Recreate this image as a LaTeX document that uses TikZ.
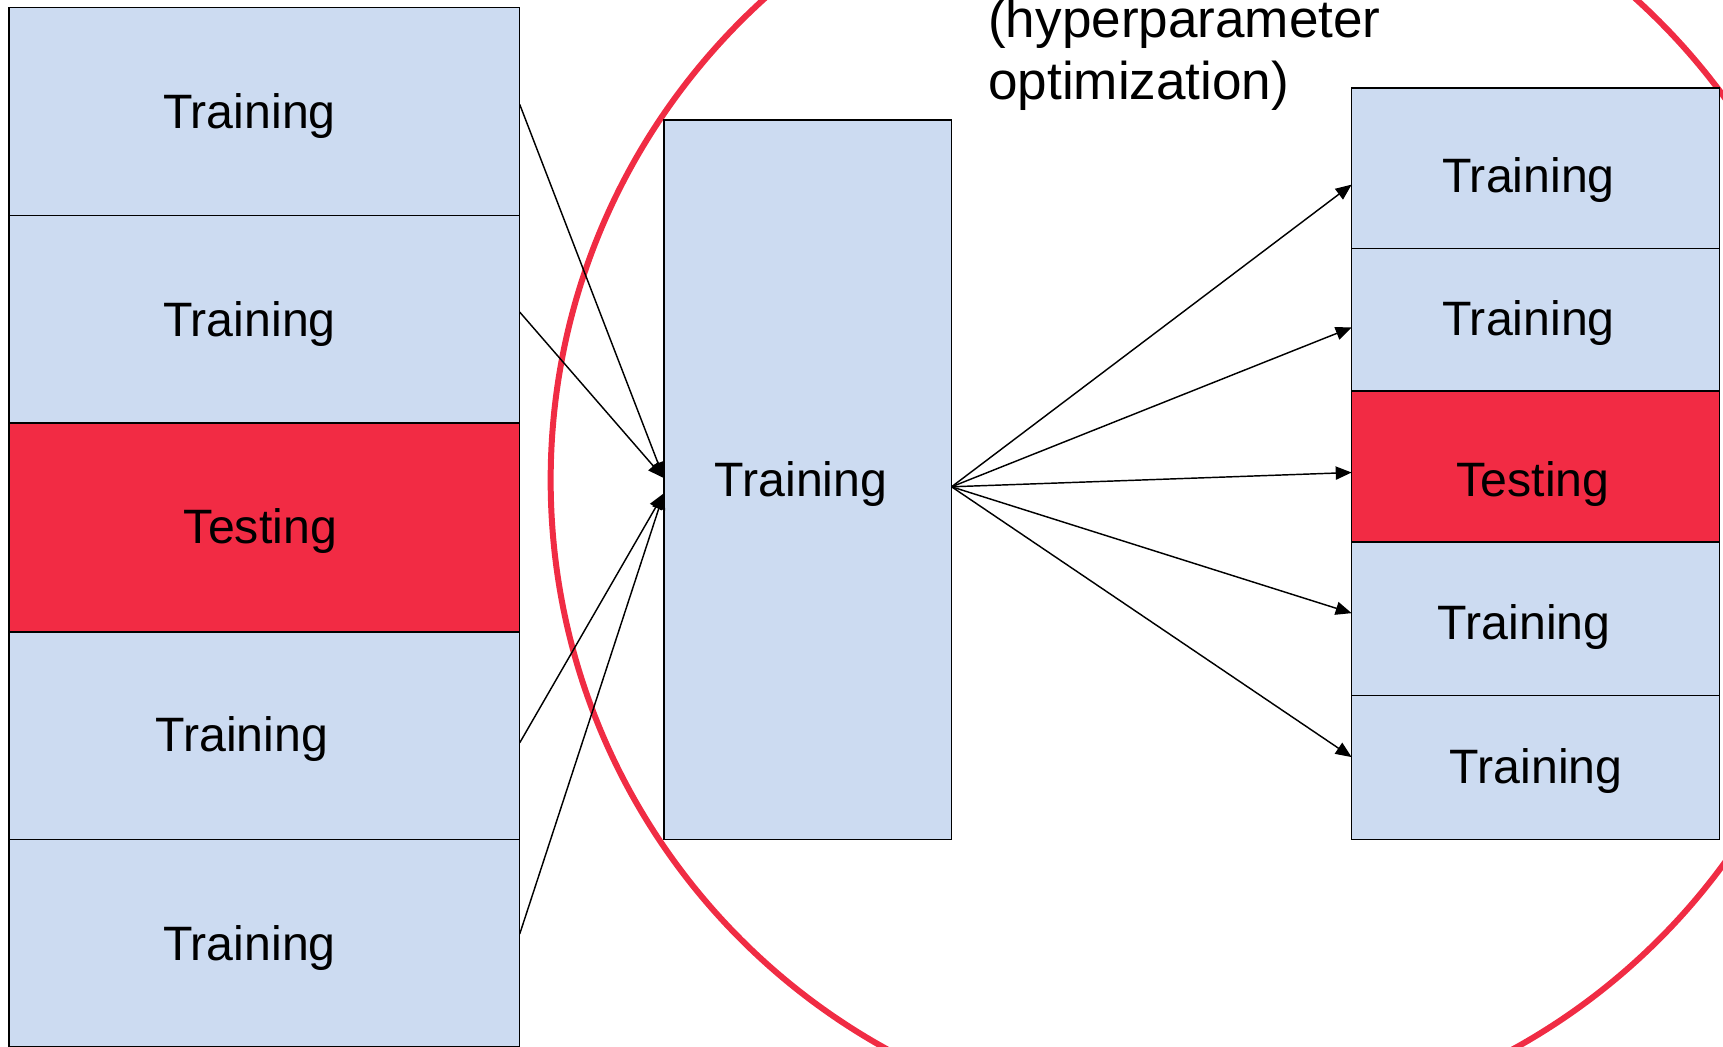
\documentclass[tikz,border=0pt]{standalone}
\usepackage{fontspec}
\setmainfont{Liberation Sans}
\usetikzlibrary{arrows.meta,calc}

\definecolor{trainblue}{RGB}{204,219,241}
\definecolor{testred}{RGB}{242,43,68}
\definecolor{ringred}{RGB}{240,44,68}

\tikzset{
  fold/.style={draw=black, line width=0.8pt, inner sep=0pt, outer sep=0pt, rectangle},
  trainfold/.style={fold, fill=trainblue},
  testfold/.style={fold, fill=testred},
  lbl/.style={anchor=base, inner sep=0pt, font=\fontsize{25}{30}\selectfont},
  ttl/.style={anchor=base west, inner sep=0pt, font=\fontsize{27.5}{33}\selectfont},
  arr/.style={line width=0.75pt, -{Triangle[length=0.29cm,width=0.24cm]}},
  ring/.style={draw=ringred, line width=3.1pt, circle, inner sep=0pt, minimum size=23.64cm}
}

\begin{document}
\begin{tikzpicture}[x=0.02cm, y=-0.02cm]
\useasboundingbox (0,0) rectangle (1568,952);

% inner loop (hyperparameter optimization)
\node[ring] (ring) at (1092,437) {};

% outer folds
\node[trainfold, minimum width=9.3cm, minimum height=3.78cm] (L1) at (240.5,101.5) {};
\node[trainfold, minimum width=9.3cm, minimum height=3.78cm] (L2) at (240.5,290.5) {};
\node[testfold,  minimum width=9.3cm, minimum height=3.80cm] (L3) at (240.5,480) {};
\node[trainfold, minimum width=9.3cm, minimum height=3.78cm] (L4) at (240.5,669.5) {};
\node[trainfold, minimum width=9.3cm, minimum height=3.78cm] (L5) at (240.5,858.5) {};

\node[lbl] (t1) at (227,117) {Training};
\node[lbl] (t2) at (227,306) {Training};
\node[lbl] (t3) at (237,495) {Testing};
\node[lbl] (t4) at (220,684) {Training};
\node[lbl] (t5) at (227,874) {Training};

% merged training set
\node[trainfold, minimum width=5.24cm, minimum height=13.1cm] (M) at (735,436.5) {};
\node[lbl] (tm) at (729,452) {Training};

% inner folds
\node[trainfold, minimum width=6.7cm, minimum height=2.92cm] (R1) at (1397.5,153) {};
\node[trainfold, minimum width=6.7cm, minimum height=2.60cm] (R2) at (1397.5,291) {};
\node[testfold,  minimum width=6.7cm, minimum height=2.74cm] (R3) at (1397.5,424.5) {};
\node[trainfold, minimum width=6.7cm, minimum height=2.80cm] (R4) at (1397.5,563) {};
\node[trainfold, minimum width=6.7cm, minimum height=2.62cm] (R5) at (1397.5,698.5) {};

\node[lbl] (r1) at (1391,175) {Training};
\node[lbl] (r2) at (1391,305) {Training};
\node[lbl] (r3) at (1395,452) {Testing};
\node[lbl] (r4) at (1387,582) {Training};
\node[lbl] (r5) at (1398,713) {Training};

% caption of the loop
\node[ttl] (h1) at (899,34) {(hyperparameter};
\node[ttl] (h2) at (899,91) {optimization)};

% folds merged into the training set
\draw[arr] ($(L1.east)+(0,-6.5)$) -- ($(M.west)+(0,-1.5)$);
\draw[arr] ($(L2.east)+(0,-6.5)$) -- ($(M.west)+(0,-1.5)$);
\draw[arr] ($(L4.east)+(0,6.5)$) -- ($(M.west)+(0,12.5)$);
\draw[arr] ($(L5.east)+(0,-8.5)$) -- ($(M.west)+(0,12.5)$);

% training set split again
\coordinate (src) at ($(M.east)+(0,6.5)$);
\draw[arr] (src) -- ($(R1.west)+(0,15)$);
\draw[arr] (src) -- ($(R2.west)+(0,7)$);
\draw[arr] (src) -- ($(R3.west)+(0,5.5)$);
\draw[arr] (src) -- ($(R4.west)+(0,-5)$);
\draw[arr] (src) -- ($(R5.west)+(0,-9.5)$);
\end{tikzpicture}
\end{document}
